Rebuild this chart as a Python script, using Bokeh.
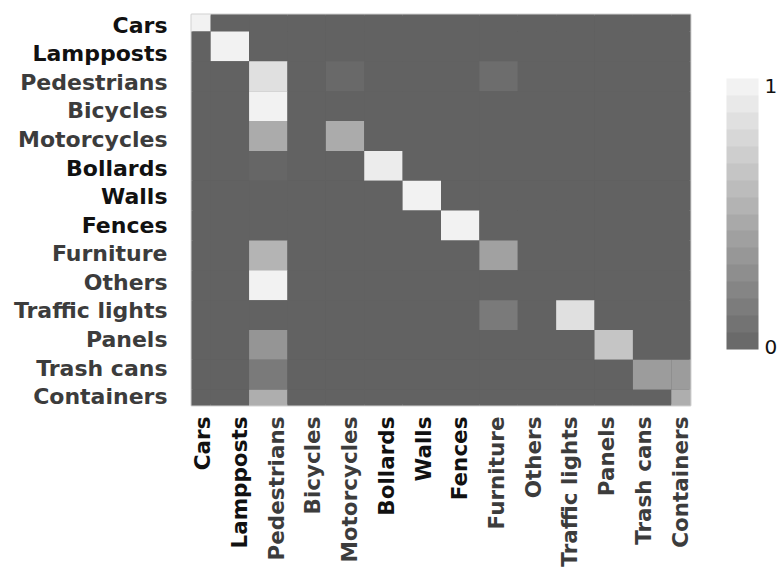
import numpy as np
from bokeh.plotting import figure
from bokeh.layouts import row, column
from bokeh.models import (ColumnDataSource, LinearColorMapper, ColorBar, FixedTicker,
                          Range1d, PrintfTickFormatter)
from bokeh.embed import file_html
from bokeh.resources import INLINE
from bokeh.core.properties import value

categories = ["Cars", "Lampposts", "Pedestrians", "Bicycles", "Motorcycles", "Bollards",
              "Walls", "Fences", "Furniture", "Others", "Traffic lights", "Panels",
              "Trash cans", "Containers"]
dark_labels = ["Cars", "Lampposts", "Bollards", "Walls", "Fences"]

# rows = true class, columns = predicted class (same order as categories)
matrix = [
    [0.99, 0, 0, 0, 0, 0, 0, 0, 0, 0, 0, 0, 0, 0],
    [0, 0.99, 0, 0, 0, 0, 0, 0, 0, 0, 0, 0, 0, 0],
    [0, 0, 0.87, 0, 0.05, 0, 0, 0, 0.08, 0, 0, 0, 0, 0],
    [0, 0, 0.99, 0, 0, 0, 0, 0, 0, 0, 0, 0, 0, 0],
    [0, 0, 0.50, 0, 0.50, 0, 0, 0, 0, 0, 0, 0, 0, 0],
    [0, 0, 0.03, 0, 0, 0.95, 0, 0, 0, 0, 0, 0, 0, 0],
    [0, 0, 0, 0, 0, 0, 0.99, 0, 0, 0, 0, 0, 0, 0],
    [0, 0, 0, 0, 0, 0, 0, 0.99, 0, 0, 0, 0, 0, 0],
    [0, 0, 0.57, 0, 0, 0, 0, 0, 0.43, 0, 0, 0, 0, 0],
    [0, 0, 0.99, 0, 0, 0, 0, 0, 0, 0, 0, 0, 0, 0],
    [0, 0, 0, 0, 0, 0, 0, 0, 0.17, 0, 0.87, 0, 0, 0],
    [0, 0, 0.35, 0, 0, 0, 0, 0, 0, 0, 0, 0.68, 0, 0],
    [0, 0, 0.17, 0, 0, 0, 0, 0, 0, 0, 0, 0, 0.40, 0.40],
    [0, 0, 0.52, 0, 0, 0, 0, 0, 0, 0, 0, 0, 0, 0.52],
]
colorbar_ticks = [0.011, 0.974]

n = len(categories)
xs, ys, vs = [], [], []
for i, r in enumerate(matrix):
    for j, v in enumerate(r):
        xs.append(j)
        ys.append(i)
        vs.append(v)
src = ColumnDataSource(dict(x=xs, y=ys, v=vs))

cell_palette = ["#%02x%02x%02x" % (g, g, g) for g in np.linspace(98, 243, 256).round().astype(int)]
cell_mapper = LinearColorMapper(palette=cell_palette, low=0, high=1)
cb_palette = ["#%02x%02x%02x" % (g, g, g) for g in np.linspace(106, 242, 16).round().astype(int)]
cb_mapper = LinearColorMapper(palette=cb_palette, low=0, high=1)

FONT = value("DejaVu Sans")

# geometry of the heatmap frame (page pixels)
W, H = 780, 569
LEFT_W = 189          # width of the left label panel
FL, FT, FW, FH = 191, 14, 500, 391
X0, X1 = 0, 13
Y0, Y1 = -0.07, 13.03
sy = FH / (Y1 - Y0)

# ---- main heatmap ----
p = figure(width=W - LEFT_W, height=FT + FH + 2, x_range=Range1d(X0, X1),
           y_range=Range1d(Y1, Y0),
           output_backend="svg", toolbar_location=None,
           x_axis_location=None, y_axis_location=None,
           min_border_left=FL - LEFT_W, min_border_right=W - FL - FW,
           min_border_top=FT, min_border_bottom=2)
p.grid.visible = False
p.outline_line_color = "#d2d2d2"
p.outline_line_width = 2
p.background_fill_color = "#626262"
p.border_fill_color = "white"

p.rect(x="x", y="y", width=1, height=1, source=src,
       fill_color={"field": "v", "transform": cell_mapper}, line_color=None)

cb = ColorBar(color_mapper=cb_mapper, width=32, height=271, location=(36, 56), padding=0,
              ticker=FixedTicker(ticks=colorbar_ticks),
              formatter=PrintfTickFormatter(format="%.0f"),
              major_tick_line_color=None, minor_tick_line_color=None,
              major_label_text_font_size="20px", major_label_text_font="DejaVu Sans",
              major_label_text_color="#111111", label_standoff=6,
              background_fill_alpha=0, border_line_color=None, bar_line_color=None)
p.add_layout(cb, "right")

# ---- tick label positions & colours ----
label_pos = [0.29 + 0.957 * i for i in range(n)]
label_colors = ["#111111" if c in dark_labels else "#3c3c3c" for c in categories]

# ---- left labels (full-height panel, same vertical scale as heatmap) ----
pl = figure(width=LEFT_W, height=H, x_range=Range1d(0, LEFT_W),
            y_range=Range1d(Y0 + (H - FT) / sy, Y0 - FT / sy),
            output_backend="svg", toolbar_location=None,
            x_axis_location=None, y_axis_location=None,
            min_border_left=0, min_border_right=0, min_border_top=0, min_border_bottom=0)
pl.grid.visible = False
pl.outline_line_color = None
pl.background_fill_color = None
pl.border_fill_color = None
ysrc = ColumnDataSource(dict(x=[167] * n, y=label_pos, text=categories, color=label_colors))
pl.text(x="x", y="y", text="text", source=ysrc, text_color="color", text_font=FONT,
        text_font_style="bold", text_font_size="22px", text_align="right",
        text_baseline="middle")

# ---- bottom labels (shares the heatmap's x range and borders) ----
pb_h = H - (FT + FH + 2)
pb = figure(width=W - LEFT_W, height=pb_h, x_range=p.x_range,
            y_range=Range1d(-pb_h, 0),
            output_backend="svg", toolbar_location=None,
            x_axis_location=None, y_axis_location=None,
            min_border_left=FL - LEFT_W, min_border_right=W - FL - FW,
            min_border_top=0, min_border_bottom=0)
pb.grid.visible = False
pb.outline_line_color = None
pb.background_fill_color = None
pb.border_fill_color = None
xsrc = ColumnDataSource(dict(x=label_pos, y=[-9] * n, text=categories, color=label_colors))
pb.text(x="x", y="y", text="text", source=xsrc, text_color="color", text_font=FONT,
        text_font_style="bold", text_font_size="21.5px", text_align="right",
        text_baseline="middle", angle=np.pi / 2)

layout = row(pl, column(p, pb, spacing=0), spacing=0)

open("out.html", "w").write(file_html(layout, INLINE))
